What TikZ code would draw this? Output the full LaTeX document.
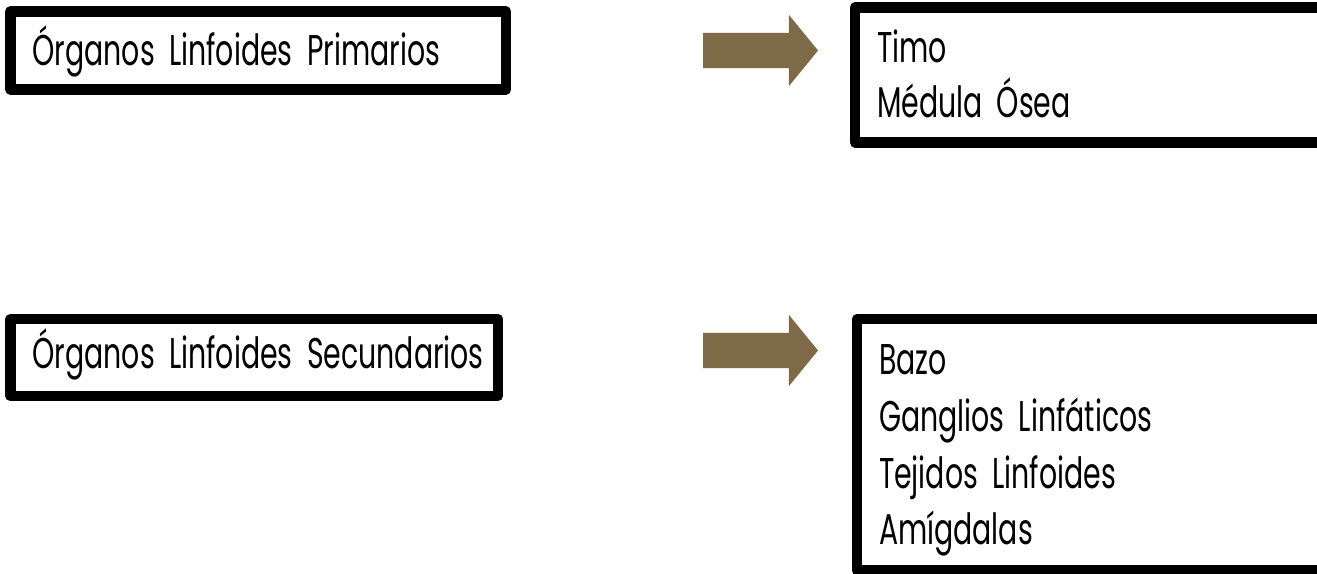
\documentclass[tikz,border=0pt]{standalone}
\usepackage{fontspec}
\setmainfont{Poppins}[FakeStretch=0.66, WordSpace=0.7]
\usetikzlibrary{shapes.arrows}
\definecolor{arrowbrown}{HTML}{7F6A47}
\tikzset{
  box/.style={draw=black, line width=10.5pt, line join=round, rectangle,
    anchor=north west, outer sep=0pt, inner xsep=22pt, inner ysep=0pt,
    align=left, text height=30pt, font=\fontsize{43}{55}\selectfont},
  blockarrow/.style={single arrow, fill=arrowbrown, draw=none, inner xsep=0pt,
    inner ysep=17.5pt, outer sep=0pt, minimum height=115pt,
    single arrow head extend=18pt, single arrow tip angle=101.5, anchor=west}
}
\begin{document}
\begin{tikzpicture}[x=1pt,y=-1pt]
\useasboundingbox (0,0) rectangle (1317,573);
\clip (0,0) rectangle (1317,573);
\node[box, minimum width=495.5pt, minimum height=78pt, text width=451.5pt, text depth=0pt]
  (prim) at (10.5,11.5) {Órganos Linfoides Primarios};
\node[box, minimum width=487.5pt, minimum height=77pt, text width=443.5pt, text depth=9pt]
  (sec) at (10.5,319) {\mbox{Órganos Linfoides Secundarios}};
\node[box, minimum width=500pt, minimum height=135pt, text width=456pt, text depth=55pt]
  (primlist) at (855,7.5) {Timo\\Médula Ósea};
\node[box, minimum width=500pt, minimum height=251.5pt, text width=456pt, text depth=170pt,
  font=\fontsize{43}{56.7}\selectfont]
  (seclist) at (857,319) {Bazo\\Ganglios Linfáticos\\Tejidos Linfoides\\Amígdalas};
\node[blockarrow] (arrprim) at (703,50.5) {};
\node[blockarrow] (arrsec) at (703,350.5) {};
\end{tikzpicture}
\end{document}
